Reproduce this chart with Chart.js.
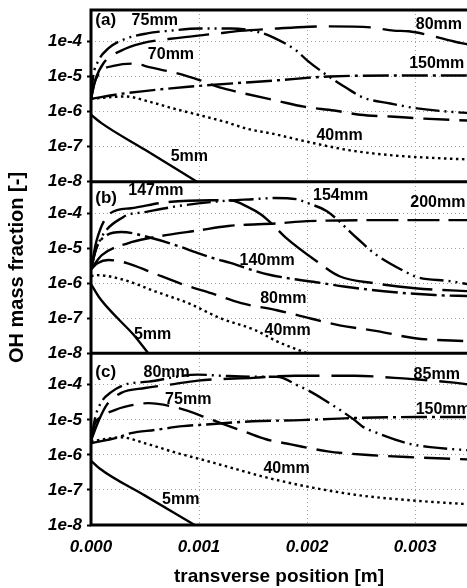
<!DOCTYPE html>
<html>
<head>
<meta charset="utf-8">
<script src="https://cdn.jsdelivr.net/npm/chart.js@4.4.1/dist/chart.umd.min.js"></script>
<style>
  html, body { margin: 0; padding: 0; background: #fff; }
</style>
</head>
<body>
<canvas id="chart" width="467" height="588"></canvas>
<script>
// axis ticks
const xTicks = [0, 0.001, 0.002, 0.003];
const yTicks = [1e-8, 1e-7, 1e-6, 1e-5, 1e-4];
const yTickLabels = ['1e-8', '1e-7', '1e-6', '1e-5', '1e-4'];

// panel (a)
const a5X = [0, 0.0001, 0.0005, 0.00098];
const a5Y = [8.1e-7, 4.6e-7, 8.1e-8, 1e-8];
const a40X = [0, 0.00032, 0.00053, 0.00076, 0.00099, 0.00124, 0.00145, 0.00169, 0.002, 0.0024, 0.00283, 0.00327, 0.0035];
const a40Y = [2.3e-6, 2.7e-6, 1.95e-6, 1.23e-6, 8.1e-7, 5.1e-7, 3.2e-7, 2.3e-7, 1.38e-7, 7.8e-8, 5.5e-8, 4.6e-8, 4.3e-8];
const a150X = [0, 0.00028, 0.0009, 0.00173, 0.0022, 0.00296, 0.0035];
const a150Y = [2.3e-6, 3.2e-6, 5.1e-6, 7.8e-6, 1.0e-5, 1.07e-5, 1.07e-5];
const a70X = [0, 0.00003, 0.00009, 0.00022, 0.00039, 0.00055, 0.0008, 0.00101, 0.00119, 0.00138, 0.00172, 0.00197, 0.00225, 0.00249, 0.00277, 0.00308, 0.0035];
const a70Y = [2.3e-6, 6.3e-6, 1.38e-5, 2.04e-5, 2.34e-5, 1.82e-5, 1.23e-5, 7.8e-6, 4.9e-6, 3.5e-6, 2.04e-6, 1.38e-6, 1.07e-6, 8.1e-7, 7.2e-7, 6.3e-7, 5.5e-7];
const a75X = [0, 0.00002, 0.000065, 0.00016, 0.00028, 0.00052, 0.00074, 0.001, 0.0013, 0.00156, 0.00169, 0.0019, 0.002, 0.00215, 0.00237, 0.00252, 0.00277, 0.00302, 0.00344, 0.0035];
const a75Y = [2.3e-6, 1e-5, 2.7e-5, 6.3e-5, 1.07e-4, 1.7e-4, 2.04e-4, 2.34e-4, 2.34e-4, 1.82e-4, 1.29e-4, 5.5e-5, 2.9e-5, 1.29e-5, 4.6e-6, 2.5e-6, 1.7e-6, 1.23e-6, 9.3e-7, 9.1e-7];
const a80X = [0, 0.00004, 0.00012, 0.00028, 0.00046, 0.00083, 0.00115, 0.00138, 0.00172, 0.00188, 0.00221, 0.0026, 0.0028, 0.00294, 0.00314, 0.00336, 0.0035];
const a80Y = [2.3e-6, 7.9e-6, 2.5e-5, 5.5e-5, 8.7e-5, 1.29e-4, 1.66e-4, 2.0e-4, 2.34e-4, 2.5e-4, 2.7e-4, 2.5e-4, 2.04e-4, 1.95e-4, 1.48e-4, 1.0e-4, 8.1e-5];

// panel (b)
const b5X = [0, 0.00008, 0.00024, 0.00039, 0.00053];
const b5Y = [9.5e-7, 3.8e-7, 1.05e-7, 3.5e-8, 1e-8];
const b40X = [0, 0.00006, 0.00031, 0.00059, 0.0009, 0.0012, 0.00152, 0.00172, 0.002];
const b40Y = [1.6e-6, 1.7e-6, 1.23e-6, 5.9e-7, 2.7e-7, 1.0e-7, 4.6e-8, 2.2e-8, 1e-8];
const b80X = [0, 0.00006, 0.00016, 0.00034, 0.00056, 0.00085, 0.00112, 0.00139, 0.00172, 0.00191, 0.0023, 0.00265, 0.003, 0.0035];
const b80Y = [2.5e-6, 3.7e-6, 4.6e-6, 3.7e-6, 2.04e-6, 9.3e-7, 5.1e-7, 2.7e-7, 1.7e-7, 1.23e-7, 6.3e-8, 4.3e-8, 2.7e-8, 2.2e-8];
const b140X = [0, 0.00005, 0.00015, 0.00028, 0.00056, 0.00078, 0.00099, 0.00115, 0.00129, 0.00147, 0.00165, 0.00185, 0.0021, 0.00234, 0.00271, 0.00318, 0.0035];
const b140Y = [2.5e-6, 1e-5, 2.4e-5, 2.9e-5, 1.95e-5, 1.23e-5, 7.2e-6, 5.0e-6, 3.8e-6, 2.5e-6, 1.75e-6, 1.35e-6, 1.05e-6, 8.1e-7, 5.9e-7, 4.6e-7, 4.3e-7];
const b147X = [0, 0.00005, 0.00018, 0.00037, 0.00069, 0.00111, 0.0013, 0.00145, 0.00157, 0.00167, 0.0018, 0.0021, 0.0023, 0.00262, 0.003, 0.0035];
const b147Y = [2.5e-6, 1.58e-5, 1e-4, 1.38e-4, 2.04e-4, 2.34e-4, 2.29e-4, 1.51e-4, 9.3e-5, 5.1e-5, 2.04e-5, 4.0e-6, 1.58e-6, 1e-6, 7.2e-7, 5.9e-7];
const b154X = [0, 0.00005, 0.0003, 0.0005, 0.0008, 0.0012, 0.0015, 0.0017, 0.0019, 0.002, 0.00218, 0.00246, 0.00262, 0.0029, 0.00302, 0.00332, 0.0035];
const b154Y = [2.5e-6, 1e-5, 7.8e-5, 1.07e-4, 1.58e-4, 2.19e-4, 2.5e-4, 2.7e-4, 2.5e-4, 1.95e-4, 1.15e-4, 1.95e-5, 7.2e-6, 2.2e-6, 1.48e-6, 1.15e-6, 9.3e-7];
const b200X = [0, 0.0001, 0.00034, 0.00056, 0.00071, 0.00099, 0.00127, 0.00173, 0.002, 0.0027, 0.0035];
const b200Y = [2.5e-6, 6.3e-6, 1.38e-5, 2.0e-5, 2.4e-5, 3.2e-5, 4.3e-5, 5.1e-5, 5.9e-5, 6.3e-5, 6.3e-5];

// panel (c)
const c5X = [0, 0.00008, 0.0005, 0.00096];
const c5Y = [6.9e-7, 4.1e-7, 6.9e-8, 1e-8];
const c40X = [0, 0.00028, 0.0005, 0.00078, 0.00106, 0.00136, 0.00163, 0.00206, 0.00252, 0.00302, 0.00344, 0.0035];
const c40Y = [2.45e-6, 3.16e-6, 2.14e-6, 1.17e-6, 6.9e-7, 3.8e-7, 2.24e-7, 1.15e-7, 6.8e-8, 4.9e-8, 4.0e-8, 3.9e-8];
const c150X = [0, 0.00025, 0.00037, 0.00059, 0.00085, 0.00107, 0.0015, 0.00194, 0.0024, 0.003, 0.0035];
const c150Y = [2.14e-6, 3.16e-6, 4.17e-6, 5.13e-6, 6.6e-6, 7.4e-6, 9.1e-6, 9.8e-6, 1.12e-5, 1.2e-5, 1.2e-5];
const c75X = [0, 0.00003, 0.00009, 0.00022, 0.00031, 0.00053, 0.0008, 0.00108, 0.0012, 0.00143, 0.00162, 0.00185, 0.00219, 0.0026, 0.003, 0.0035];
const c75Y = [2.5e-6, 7e-6, 1.2e-5, 1.9e-5, 2.34e-5, 3.0e-5, 2.2e-5, 1.12e-5, 8.1e-6, 4.5e-6, 2.8e-6, 2.0e-6, 1.26e-6, 9.8e-7, 8.5e-7, 7.4e-7];
const c80X = [0, 0.00004, 0.00009, 0.00019, 0.00031, 0.00053, 0.00099, 0.0012, 0.0015, 0.00172, 0.00194, 0.002, 0.00216, 0.00244, 0.00252, 0.00265, 0.00293, 0.00314, 0.0035];
const c80Y = [2.5e-6, 1.2e-5, 3.0e-5, 6.3e-5, 1e-4, 1.23e-4, 1.95e-4, 1.82e-4, 1.7e-4, 1.7e-4, 8.7e-5, 7.2e-5, 3.7e-5, 9.8e-6, 6.2e-6, 4.2e-6, 2.14e-6, 1.66e-6, 1.35e-6];
const c85X = [0, 0.00006, 0.00015, 0.00028, 0.0005, 0.00072, 0.00099, 0.0015, 0.00189, 0.00244, 0.00281, 0.00295, 0.00336, 0.0035];
const c85Y = [2.5e-6, 7.9e-6, 2.8e-5, 5.9e-5, 8.1e-5, 1e-4, 1.32e-4, 1.58e-4, 1.82e-4, 1.82e-4, 1.58e-4, 1.48e-4, 1.15e-4, 1.02e-4];

const FONT = "'Liberation Sans', Arial, sans-serif";

// line styles
const SOLID = [];
const DOTTED = [2.5, 3.5];
const DASH = [26, 10];
const LONGDASH = [42, 12];
const DASHDOT = [26, 5, 3, 5];
const DASHDOTDOT = [24, 5, 2, 5, 2, 5];

const series = [
    ['ya', a5X, a5Y, SOLID], ['ya', a40X, a40Y, DOTTED], ['ya', a150X, a150Y, DASHDOT],
    ['ya', a70X, a70Y, DASH], ['ya', a75X, a75Y, DASHDOTDOT], ['ya', a80X, a80Y, LONGDASH],
    ['yb', b5X, b5Y, SOLID], ['yb', b40X, b40Y, DOTTED], ['yb', b80X, b80Y, DASH],
    ['yb', b140X, b140Y, DASHDOT], ['yb', b147X, b147Y, [50, 10]], ['yb', b154X, b154Y, DASHDOTDOT],
    ['yb', b200X, b200Y, [32, 9]],
    ['yc', c5X, c5Y, SOLID], ['yc', c40X, c40Y, DOTTED], ['yc', c150X, c150Y, DASHDOT],
    ['yc', c75X, c75Y, DASH], ['yc', c80X, c80Y, DASHDOTDOT], ['yc', c85X, c85Y, LONGDASH]
];

// curve labels, placed in data coordinates
const curveLabels = [
    ['ya', '(a)', 0.00004, 4e-4, 'left'], ['ya', '75mm', 0.00059, 4e-4], ['ya', '70mm', 0.00074, 4.3e-5],
    ['ya', '5mm', 0.00091, 5.1e-8], ['ya', '80mm', 0.00322, 3.1e-4], ['ya', '150mm', 0.0032, 2.3e-5],
    ['ya', '40mm', 0.0023, 2.0e-7],
    ['yb', '(b)', 0.00004, 2.7e-4, 'left'], ['yb', '147mm', 0.0006, 4.3e-4], ['yb', '154mm', 0.00231, 3.2e-4],
    ['yb', '200mm', 0.00321, 1.95e-4], ['yb', '140mm', 0.00163, 4.3e-6], ['yb', '80mm', 0.00178, 3.7e-7],
    ['yb', '40mm', 0.00182, 4.6e-8], ['yb', '5mm', 0.00057, 3.5e-8],
    ['yc', '(c)', 0.00004, 2.3e-4, 'left'], ['yc', '80mm', 0.0007, 2.3e-4], ['yc', '75mm', 0.0009, 3.7e-5],
    ['yc', '5mm', 0.00083, 5.2e-8], ['yc', '40mm', 0.00181, 4.1e-7], ['yc', '85mm', 0.0032, 1.95e-4],
    ['yc', '150mm', 0.00326, 2.0e-5]
];

const panelFrame = {
    id: 'panelFrame',
    afterDraw(chart) {
        const {ctx, chartArea} = chart;
        ctx.save();
        ctx.strokeStyle = '#000';
        ctx.lineWidth = 3;
        ctx.lineCap = 'square';
        ctx.beginPath();
        ctx.moveTo(chartArea.left, chartArea.top);
        ctx.lineTo(chartArea.left, chartArea.bottom);
        ['ya', 'yb', 'yc'].forEach(id => {
            const s = chart.scales[id];
            ctx.moveTo(chartArea.left, s.top);
            ctx.lineTo(chartArea.right + 2, s.top);
            ctx.moveTo(chartArea.left, s.bottom);
            ctx.lineTo(chartArea.right + 2, s.bottom);
        });
        ctx.stroke();

        ctx.fillStyle = '#000';
        ctx.textBaseline = 'middle';
        curveLabels.forEach(([axis, text, x, y, align]) => {
            ctx.font = text.startsWith('(') ? 'bold 17px ' + FONT : 'bold 16px ' + FONT;
            ctx.textAlign = align || 'center';
            ctx.fillText(text, chart.scales.x.getPixelForValue(x), chart.scales[axis].getPixelForValue(y));
        });
        ctx.restore();
    }
};

function yAxis(showTitle) {
    return {
        type: 'logarithmic',
        position: 'left',
        stack: 'panels',
        stackWeight: 1,
        min: 1e-8,
        max: 7.9e-4,
        afterBuildTicks: scale => { scale.ticks = yTicks.map(v => ({value: v})); },
        afterFit: scale => { scale.width = 91; scale.paddingTop = 0; scale.paddingBottom = 0; },
        ticks: {
            autoSkip: false,
            padding: 5,
            color: '#000',
            font: {family: FONT, size: 17, weight: 'bold', style: 'italic'},
            callback: (value, index) => yTickLabels[index]
        },
        grid: {color: '#a0a0a0', lineWidth: 1, drawTicks: true, tickLength: 4, tickColor: '#000', tickWidth: 2},
        border: {display: false, dash: [1, 3]},
        title: {
            display: showTitle,
            text: 'OH mass fraction [-]',
            color: '#000',
            padding: {top: 5, bottom: 0},
            font: {family: FONT, size: 20, weight: 'bold'}
        }
    };
}

new Chart(document.getElementById('chart'), {
    type: 'line',
    data: {
        datasets: series.map(([axis, xs, ys, dash]) => ({
            yAxisID: axis,
            data: xs.map((x, i) => ({x: x, y: ys[i]})),
            borderColor: '#000',
            borderWidth: 2.4,
            borderDash: dash,
            pointRadius: 0,
            fill: false,
            cubicInterpolationMode: 'monotone'
        }))
    },
    options: {
        responsive: false,
        animation: false,
        events: [],
        layout: {padding: {top: 10, left: 0, right: 0, bottom: 0}},
        plugins: {legend: {display: false}, tooltip: {enabled: false}},
        scales: {
            x: {
                type: 'linear',
                min: 0,
                max: 0.00348,
                afterBuildTicks: scale => { scale.ticks = xTicks.map(v => ({value: v})); },
                afterFit: scale => { scale.height = 63; scale.paddingLeft = 0; scale.paddingRight = 0; },
                ticks: {
                    autoSkip: false,
                    maxRotation: 0,
                    padding: 12,
                    color: '#000',
                    font: {family: FONT, size: 17, weight: 'bold', style: 'italic'},
                    callback: value => value.toFixed(3)
                },
                grid: {color: '#a0a0a0', lineWidth: 1, drawTicks: false},
                border: {display: false, dash: [1, 3]},
                title: {
                    display: true,
                    text: 'transverse position [m]',
                    color: '#000',
                    padding: {top: 4, bottom: 0},
                    font: {family: FONT, size: 19, weight: 'bold'}
                }
            },
            // stacked axes are laid out bottom-up, so the lowest panel comes first
            yc: yAxis(false),
            yb: yAxis(true),
            ya: yAxis(false)
        }
    },
    plugins: [panelFrame]
});
</script>
</body>
</html>
